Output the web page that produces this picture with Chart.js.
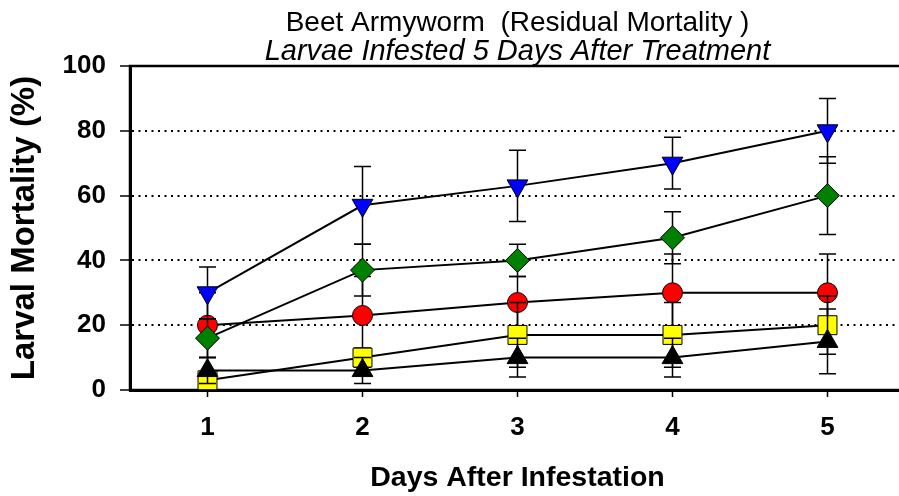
<!DOCTYPE html>
<html>
<head>
<meta charset="utf-8">
<title>Beet Armyworm - Residual Mortality</title>
<script src="https://cdn.jsdelivr.net/npm/chart.js@4.4.1/dist/chart.umd.min.js"></script>
<style>
    html, body { margin: 0; padding: 0; background: #fff; overflow: hidden; }
    #wrap { width: 899px; height: 496px; overflow: hidden; }
    #chart { display: block; width: 910px; height: 496px; }
</style>
</head>
<body>
<div id="wrap"><canvas id="chart" width="910" height="496"></canvas></div>
<script>
// Days after infestation (x categories)
const days = ['1', '2', '3', '4', '5'];

// Mean larval mortality (%) for each treatment line
const blueMort   = [30, 57, 63, 70, 80];
const greenMort  = [16, 37, 40, 47, 60];
const redMort    = [20, 23, 27, 30, 30];
const yellowMort = [3, 10, 17, 17, 20];
const blackMort  = [6, 6, 10, 10, 15];

// Error bars (+/- %)
const blueErr   = [8, 12, 11, 8, 10];
const greenErr  = [6, 8, 5, 8, 12];
const redErr    = [10, 12, 8, 12, 12];
const yellowErr = [2, 3, 10, 10, 9];
const blackErr  = [4, 4, 6, 6, 10];

// y axis ticks
const yMin = 0, yMax = 100, yStep = 20;

Chart.defaults.font.family = '"Liberation Sans", Arial, sans-serif';
Chart.defaults.color = '#000';

/**
 * Draws the error bars of a dataset right before the dataset itself,
 * so the markers sit on top of their own bars.
 */
const errorBars = {
    id: 'errorBars',
    beforeDatasetDraw(chart, args) {
        const ds = chart.data.datasets[args.index];
        if (!ds.errors) return;
        const xs = chart.scales.x, ys = chart.scales.y;
        const ctx = chart.ctx;
        ctx.save();
        ctx.strokeStyle = '#000';
        ctx.lineWidth = 1.5;
        ds.data.forEach((v, i) => {
            const px = xs.getPixelForValue(i);
            const top = ys.getPixelForValue(v + ds.errors[i]);
            const bot = ys.getPixelForValue(Math.max(0, v - ds.errors[i]));
            ctx.beginPath();
            ctx.moveTo(px, top); ctx.lineTo(px, bot);
            ctx.moveTo(px - 8.5, top); ctx.lineTo(px + 8.5, top);
            ctx.moveTo(px - 8.5, bot); ctx.lineTo(px + 8.5, bot);
            ctx.stroke();
        });
        ctx.restore();
    }
};

//Frame round the plot area (top and right sides)
const plotFrame = {
    id: 'plotFrame',
    beforeDatasetsDraw(chart) {
        const a = chart.chartArea, ctx = chart.ctx;
        ctx.save();
        ctx.strokeStyle = '#000';
        ctx.lineWidth = 2.5;
        ctx.strokeRect(a.left, a.top, a.right - a.left, a.bottom - a.top);
        ctx.restore();
    }
};

function series(data, errors, shape, fill, radius, rotation) {
    return {
        data: data,
        errors: errors,
        borderColor: '#000',
        borderWidth: 2,
        pointStyle: shape,
        pointRadius: radius,
        pointRotation: rotation || 0,
        pointBackgroundColor: fill,
        pointBorderColor: '#000',
        pointBorderWidth: 1,
        tension: 0,
        clip: false
    };
}

let ctx = document.getElementById('chart').getContext('2d');

window.chart = new Chart(ctx, {
    type: 'line',
    data: {
        labels: days,
        // first dataset is drawn last (on top)
        datasets: [
            series(blueMort, blueErr, 'triangle', '#0000ff', 12, 180),
            series(blackMort, blackErr, 'triangle', '#000000', 12),
            series(yellowMort, yellowErr, 'rect', '#ffff00', 13.4),
            series(greenMort, greenErr, 'rectRot', '#008000', 12),
            series(redMort, redErr, 'circle', '#ff0000', 10)
        ]
    },
    options: {
        responsive: false,
        animation: false,
        //the canvas is a bit wider than the picture, the plot box runs past its right edge
        layout: { autoPadding: false, padding: { left: 0, right: 5, top: 0, bottom: 0 } },
        plugins: {
            legend: { display: false },
            tooltip: { enabled: false },
            title: {
                display: true,
                text: 'Beet Armyworm  (Residual Mortality )',
                color: '#000',
                fullSize: false,
                font: { size: 28, weight: 'normal', lineHeight: 1 },
                padding: { top: 9, bottom: 0 }
            },
            subtitle: {
                display: true,
                text: 'Larvae Infested 5 Days After Treatment',
                color: '#000',
                fullSize: false,
                font: { size: 29, style: 'italic', lineHeight: 1 },
                padding: { top: 0, bottom: 0 }
            }
        },
        scales: {
            x: {
                type: 'category',
                offset: true,
                afterFit: (scale) => {
                    scale.height = 106;
                    scale.paddingLeft = 0;
                    scale.paddingRight = 0;
                },
                grid: {
                    offset: false,
                    drawOnChartArea: false,
                    drawTicks: true,
                    tickLength: 7,
                    tickColor: '#000',
                    tickWidth: 1.5
                },
                border: { display: true, color: '#000', width: 3 },
                ticks: {
                    color: '#000',
                    padding: 15,
                    maxRotation: 0,
                    font: { size: 26, weight: 'bold' }
                },
                title: {
                    display: true,
                    text: 'Days After Infestation',
                    color: '#000',
                    font: { size: 28.5, weight: 'bold', lineHeight: 1.2 },
                    padding: { top: 0, bottom: 1 }
                }
            },
            y: {
                min: yMin,
                max: yMax,
                afterFit: (scale) => { scale.width = 130; },
                grid: {
                    color: (c) => (c.tick && c.tick.value > yMin && c.tick.value < yMax) ? '#000' : 'rgba(0,0,0,0)',
                    lineWidth: 2,
                    drawTicks: true,
                    tickLength: 10,
                    tickColor: '#000',
                    tickWidth: 1.5,
                    tickBorderDash: []
                },
                border: { display: true, color: '#000', width: 3, dash: [2, 4.5] },
                ticks: {
                    stepSize: yStep,
                    color: '#000',
                    padding: 14,
                    font: { size: 26, weight: 'bold' }
                },
                title: {
                    display: true,
                    text: 'Larval Mortality (%)',
                    color: '#000',
                    font: { size: 33, weight: 'bold', lineHeight: 1.2 },
                    padding: { top: 5, bottom: 0 }
                }
            }
        }
    },
    plugins: [errorBars, plotFrame]
});
</script>
</body>
</html>
